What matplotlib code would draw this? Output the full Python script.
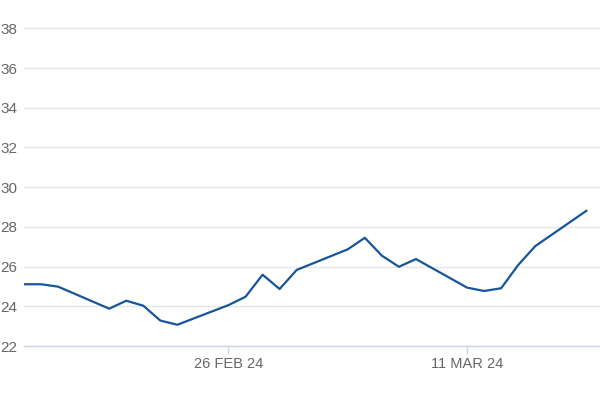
import matplotlib
matplotlib.use("Agg")
import matplotlib.pyplot as plt
import matplotlib.dates as mdates
import numpy as np
import pandas as pd

# data
dates = ["2024-02-14", "2024-02-15", "2024-02-16",
         "2024-02-19", "2024-02-20", "2024-02-21", "2024-02-22", "2024-02-23",
         "2024-02-26", "2024-02-27", "2024-02-28", "2024-02-29", "2024-03-01",
         "2024-03-04", "2024-03-05", "2024-03-06", "2024-03-07", "2024-03-08",
         "2024-03-11", "2024-03-12", "2024-03-13", "2024-03-14", "2024-03-15",
         "2024-03-18"]
values = [25.11, 25.11, 24.99,
          23.88, 24.28, 24.03, 23.28, 23.07,
          24.06, 24.48, 25.59, 24.87, 25.83,
          26.87, 27.45, 26.55, 25.99, 26.38,
          24.94, 24.77, 24.91, 26.08, 27.03,
          28.81]
y_ticks = [22, 24, 26, 28, 30, 32, 34, 36, 38]
x_tick_dates = ["2024-02-26", "2024-03-11"]
x_tick_labels = ["26 FEB 24", "11 MAR 24"]

dates = pd.to_datetime(dates)
plt.rcParams['font.family'] = ['Liberation Sans', 'DejaVu Sans']

fig = plt.figure(figsize=(6, 4), dpi=100)
ax = fig.add_axes([0.04, 0.135, 0.96, 0.819])

ax.plot(dates, values, color='#17559a', lw=1.6, solid_joinstyle='round')

start = pd.Timestamp("2024-02-14")
ax.set_xlim(start, start + pd.Timedelta(days=33.8))
ax.set_ylim(22, 38.5)

ax.set_yticks(y_ticks)
ax.set_yticklabels([str(v) for v in y_ticks])
ax.set_xticks(pd.to_datetime(x_tick_dates))
ax.set_xticklabels(x_tick_labels)

ax.grid(axis='y', color='#e6e6e6', lw=1)
ax.set_axisbelow(True)
for s in ['top', 'right', 'left']:
    ax.spines[s].set_visible(False)
ax.spines['bottom'].set_color('#ccd6eb')
ax.spines['bottom'].set_linewidth(1)

ax.tick_params(axis='y', length=0, pad=5, labelsize=11, labelcolor='#666666')
ax.tick_params(axis='x', length=6, width=1, color='#ccd6eb', pad=2,
               labelsize=10.5, labelcolor='#666666')

fig.savefig("out.png", dpi=100, facecolor='white')
